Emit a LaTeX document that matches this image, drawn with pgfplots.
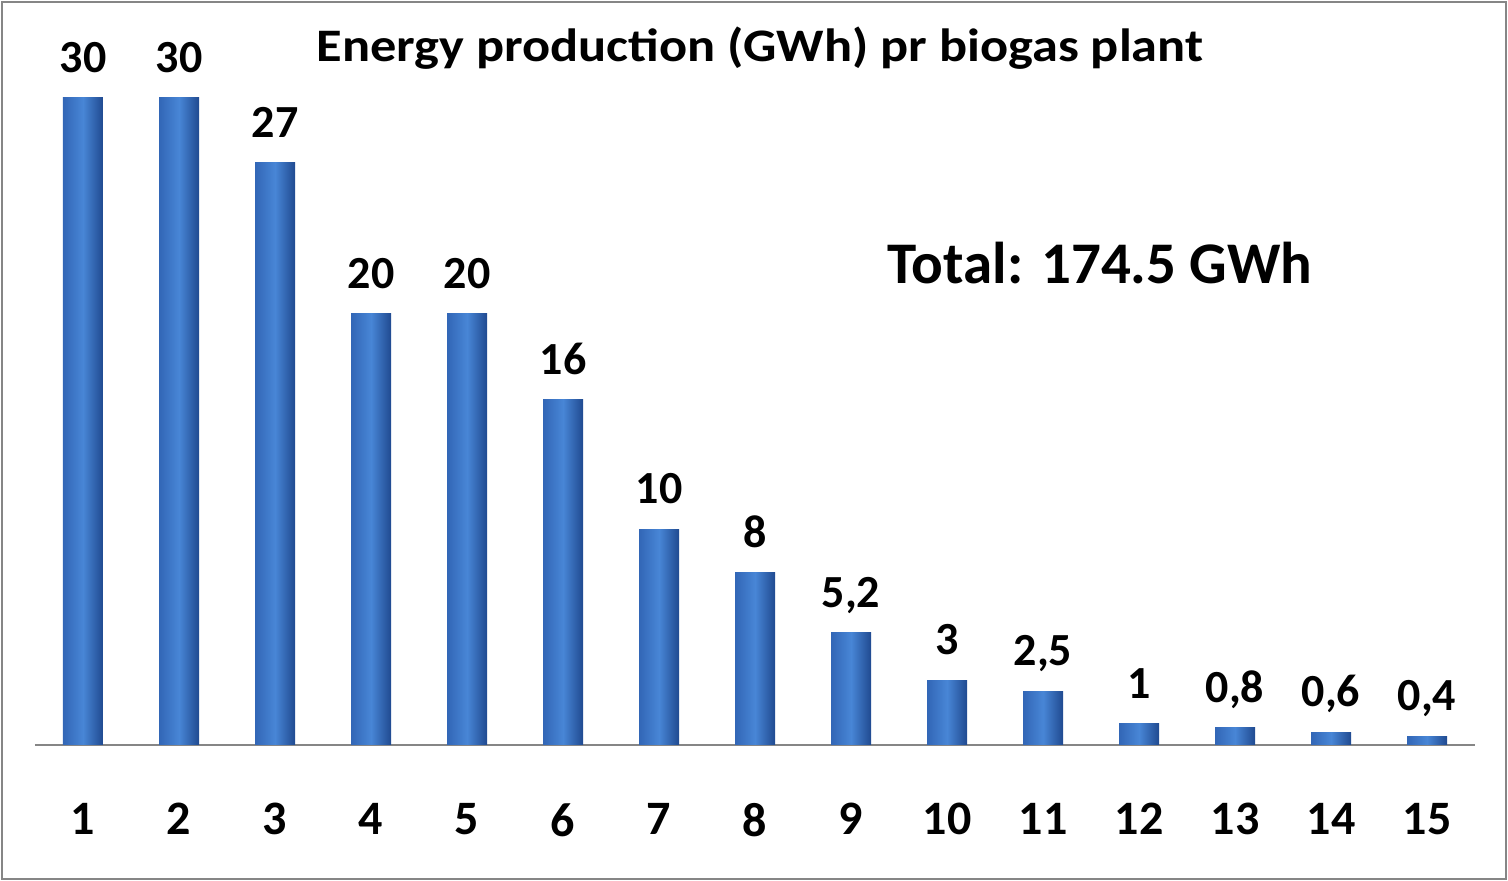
\documentclass[border=0pt]{standalone}
\usepackage{fontspec}
\setmainfont{Carlito}
\usepackage{graphicx}
\usepackage{pgfplots}
\pgfplotsset{compat=1.18}
\definecolor{framegray}{RGB}{134,134,134}
\definecolor{barL}{RGB}{50,102,182}
\definecolor{barM}{RGB}{72,134,214}
\definecolor{barR}{RGB}{32,74,144}
\definecolor{axisgray}{RGB}{134,134,134}
\pgfplotsset{barsty/.style={draw=none, shade, shading=axis, left color=barL, right color=barR, middle color=barM}}
\begin{document}
\begin{tikzpicture}
\useasboundingbox (0pt,0pt) rectangle (754pt,440.5pt);
\draw[framegray, line width=1pt] (1pt,1pt) rectangle (753pt,439.5pt);
\begin{axis}[
  at={(17.5pt,68pt)}, anchor=south west,
  scale only axis, width=720pt, height=323.5pt,
  xmin=0.5, xmax=15.5, ymin=0, ymax=30,
  enlargelimits=false, clip=false,
  ybar, bar width=20pt, bar shift=0pt,
  axis x line*=bottom, axis y line=none,
  x axis line style={-, axisgray, line width=0.8pt},
  xtick={1,...,15}, major tick length=0pt,
  /pgf/number format/assume math mode=true,
  /pgf/number format/use comma,
  /pgf/number format/1000 sep={},
  xticklabel style={font=\bfseries\fontsize{24}{24}\selectfont, inner sep=0pt, yshift=-29pt},
  nodes near coords,
  every node near coord/.append style={font=\bfseries\fontsize{23}{23}\selectfont, inner sep=0pt, text depth=0pt, yshift=12.5pt, black},
]
\addplot[barsty] coordinates {(1,30)};
\addplot[barsty] coordinates {(2,30)};
\addplot[barsty] coordinates {(3,27)};
\addplot[barsty] coordinates {(4,20)};
\addplot[barsty] coordinates {(5,20)};
\addplot[barsty] coordinates {(6,16)};
\addplot[barsty] coordinates {(7,10)};
\addplot[barsty] coordinates {(8,8)};
\addplot[barsty] coordinates {(9,5.2)};
\addplot[barsty] coordinates {(10,3)};
\addplot[barsty] coordinates {(11,2.5)};
\addplot[barsty] coordinates {(12,1)};
\addplot[barsty] coordinates {(13,0.8)};
\addplot[barsty] coordinates {(14,0.6)};
\addplot[barsty] coordinates {(15,0.4)};
\end{axis}
\node[font=\bfseries\fontsize{23.3}{23.3}\selectfont] at (380pt,416.5pt) {\scalebox{1.124}[1]{Energy production (GWh) pr biogas plant}};
\node[font=\bfseries\fontsize{29.5}{29.5}\selectfont] at (550pt,309pt) {Total: 174.5 GWh};
\end{tikzpicture}
\end{document}
